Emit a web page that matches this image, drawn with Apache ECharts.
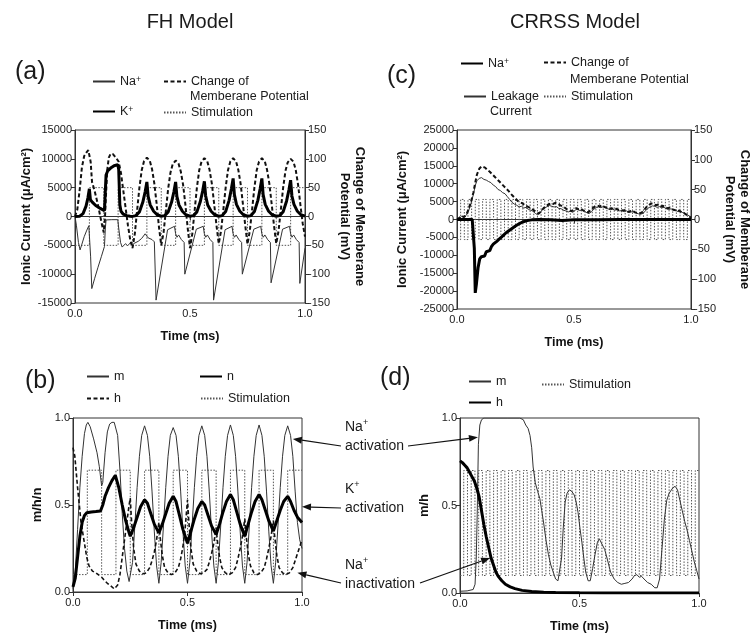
<!DOCTYPE html>
<html><head><meta charset="utf-8">
<script src="https://cdn.jsdelivr.net/npm/echarts@6/dist/echarts.min.js"></script>
<style>html,body{margin:0;padding:0;background:#fff}#c{width:756px;height:640px}</style>
</head><body><div id="c"></div>
<script>
// ---------- Panel (a): FH model currents ----------
const naA = [[0,0],[0.006,-1500],[0.015,-4500],[0.022,-5800],[0.03,-4800],[0.04,-3500],[0.05,-2500],[0.06,-1600],[0.064,-1500],[0.068,-7000],[0.073,-12500],[0.085,-10800],[0.1,-8800],[0.115,-6900],[0.128,-5200],[0.132,-2000],[0.135,-600],[0.16,-550],[0.186,-550],[0.19,-2000],[0.198,-4500],[0.205,-5300],[0.212,-5600],[0.22,-4700],[0.228,-5100],[0.24,-4600],[0.25,-4900],[0.26,-4600],[0.275,-4300],[0.29,-3800],[0.305,-3000],[0.3125,-2800],[0.318,-3700],[0.325,-3400],[0.335,-4000],[0.345,-4400],[0.35,-4600],
[0.3525,-14500],[0.4025,-2300],[0.4325,-1700],[0.4375,-3000],[0.4435,-3600],[0.4505,-3200],[0.4625,-4000],[0.4745,-4500],
[0.4775,-10000],[0.5275,-2200],[0.5575,-1700],[0.5625,-3000],[0.5685,-3600],[0.5755,-3200],[0.5875,-4000],[0.5995,-4500],
[0.6025,-14500],[0.6525,-2300],[0.6825,-1700],[0.6875,-3000],[0.6935,-3600],[0.7005,-3200],[0.7125,-4000],[0.7245,-4500],
[0.7275,-10000],[0.7775,-2200],[0.8075,-1700],[0.8125,-3000],[0.8185,-3600],[0.8255,-3200],[0.8375,-4000],[0.8495,-4500],
[0.8525,-11500],[0.9025,-2200],[0.9325,-1700],[0.9375,-3000],[0.9435,-3600],[0.9505,-3200],[0.9625,-4000],[0.9745,-4500],
[0.9775,-11600],[1.0,-5500]];
const kA = [[0,0],[0.02,50],[0.035,500],[0.048,1800],[0.056,3200],[0.0625,4800],[0.067,2900],[0.075,2500],[0.09,1900],[0.11,1400],[0.128,1000],[0.131,1200],[0.135,7200],[0.142,7900],[0.155,8400],[0.17,8800],[0.186,9000],[0.19,8200],[0.195,2000],[0.2,900],[0.21,400],[0.225,150],[0.24,50],[0.25,20],
[0.265,150],[0.28,800],[0.295,2500],[0.305,4300],[0.3125,6000],[0.318,3500],[0.327,2000],[0.342,900],[0.357,300],[0.375,50],
[0.39,150],[0.405,800],[0.42,2500],[0.43,4300],[0.4375,6000],[0.443,3500],[0.452,2000],[0.467,900],[0.482,300],[0.5,50],
[0.515,150],[0.53,800],[0.545,2600],[0.555,4400],[0.5625,6100],[0.568,3600],[0.577,2000],[0.592,900],[0.607,300],[0.625,50],
[0.64,150],[0.655,850],[0.67,2800],[0.68,4800],[0.6875,6600],[0.693,3800],[0.702,2100],[0.717,900],[0.732,300],[0.75,50],
[0.765,150],[0.78,850],[0.795,2800],[0.805,4800],[0.8125,6600],[0.818,3800],[0.827,2100],[0.842,900],[0.857,300],[0.875,50],
[0.89,150],[0.905,820],[0.92,2700],[0.93,4600],[0.9375,6300],[0.943,3600],[0.952,2100],[0.967,900],[0.982,300],[1.0,60]];
const vA = [[0,0],[0.01,12],[0.02,45],[0.03,85],[0.04,105],[0.05,111],[0.058,115],[0.064,118],[0.068,95],[0.074,60],[0.085,45],[0.1,20],[0.115,-10],[0.125,-28],[0.13,-5],[0.135,40],[0.14,80],[0.147,102],[0.155,109],[0.165,108],[0.178,102],[0.19,95],[0.2,75],[0.21,45],[0.22,15],[0.23,-15],[0.24,-40],[0.25,-55],
[0.26,-30],[0.27,10],[0.28,50],[0.29,80],[0.3,96],[0.3125,102],[0.325,97],[0.335,82],[0.345,57],[0.355,22],[0.365,-18],[0.375,-50],
[0.385,-28],[0.395,10],[0.405,48],[0.415,76],[0.425,91],[0.4375,97],[0.45,92],[0.46,78],[0.47,55],[0.48,20],[0.49,-20],[0.5,-55],
[0.51,-30],[0.52,10],[0.53,50],[0.54,80],[0.55,95],[0.5625,101],[0.575,96],[0.585,81],[0.595,57],[0.605,22],[0.615,-15],[0.625,-47],
[0.635,-25],[0.645,12],[0.655,50],[0.665,80],[0.675,95],[0.6875,101],[0.7,96],[0.71,81],[0.72,57],[0.73,22],[0.74,-15],[0.75,-48],
[0.76,-25],[0.77,12],[0.78,50],[0.79,80],[0.8,95],[0.8125,101],[0.825,96],[0.835,81],[0.845,57],[0.855,22],[0.865,-15],[0.875,-47],
[0.885,-25],[0.895,12],[0.905,50],[0.915,79],[0.925,94],[0.9375,100],[0.95,95],[0.96,80],[0.97,55],[0.98,20],[0.99,-12],[1.0,-35]];

// ---------- Panel (b): FH gating ----------
const mB = [[0,0.02],[0.01,0.12],[0.02,0.36],[0.03,0.6],[0.04,0.78],[0.05,0.91],[0.058,0.96],[0.065,0.975],[0.075,0.95],[0.09,0.88],[0.105,0.8],[0.115,0.72],[0.125,0.61],[0.13,0.63],[0.14,0.8],[0.15,0.92],[0.16,0.965],[0.17,0.975],[0.18,0.975],[0.188,0.965],[0.195,0.9],[0.205,0.7],[0.215,0.45],[0.225,0.25],[0.235,0.12],[0.245,0.06],[0.25,0.05],
[0.26,0.17],[0.27,0.38],[0.28,0.6],[0.29,0.78],[0.3,0.9],[0.3125,0.955],[0.325,0.9],[0.335,0.78],[0.345,0.58],[0.355,0.35],[0.365,0.15],[0.375,0.05],
[0.385,0.17],[0.395,0.38],[0.405,0.6],[0.415,0.78],[0.425,0.9],[0.4375,0.945],[0.45,0.9],[0.46,0.78],[0.47,0.58],[0.48,0.35],[0.49,0.15],[0.5,0.05],
[0.51,0.17],[0.52,0.38],[0.53,0.6],[0.54,0.78],[0.55,0.9],[0.5625,0.955],[0.575,0.9],[0.585,0.78],[0.595,0.58],[0.605,0.35],[0.615,0.15],[0.625,0.05],
[0.635,0.17],[0.645,0.38],[0.655,0.6],[0.665,0.78],[0.675,0.9],[0.6875,0.96],[0.7,0.9],[0.71,0.78],[0.72,0.58],[0.73,0.35],[0.74,0.15],[0.75,0.05],
[0.76,0.17],[0.77,0.38],[0.78,0.6],[0.79,0.78],[0.8,0.9],[0.8125,0.96],[0.825,0.9],[0.835,0.78],[0.845,0.58],[0.855,0.35],[0.865,0.15],[0.875,0.05],
[0.885,0.17],[0.895,0.38],[0.905,0.6],[0.915,0.78],[0.925,0.9],[0.9375,0.955],[0.95,0.9],[0.96,0.78],[0.97,0.58],[0.98,0.4],[0.99,0.3],[1.0,0.25]];
const hB = [[0,0.83],[0.008,0.78],[0.02,0.6],[0.035,0.4],[0.05,0.28],[0.06,0.2],[0.07,0.15],[0.085,0.12],[0.1,0.11],[0.115,0.095],[0.125,0.085],[0.135,0.07],[0.15,0.05],[0.165,0.035],[0.18,0.018],[0.188,0.015],[0.195,0.04],[0.205,0.1],[0.215,0.2],[0.225,0.3],[0.235,0.4],[0.245,0.5],[0.25,0.54],
[0.255,0.42],[0.265,0.25],[0.275,0.16],[0.29,0.12],[0.305,0.105],[0.32,0.11],[0.335,0.14],[0.345,0.18],[0.355,0.23],[0.365,0.3],[0.375,0.4],
[0.38,0.32],[0.39,0.21],[0.4,0.14],[0.415,0.11],[0.43,0.1],[0.445,0.11],[0.46,0.14],[0.47,0.19],[0.48,0.26],[0.49,0.37],[0.5,0.53],
[0.505,0.42],[0.515,0.25],[0.525,0.16],[0.54,0.12],[0.555,0.105],[0.57,0.11],[0.585,0.13],[0.595,0.17],[0.605,0.22],[0.615,0.28],[0.625,0.37],
[0.63,0.3],[0.64,0.2],[0.65,0.14],[0.665,0.11],[0.68,0.1],[0.695,0.11],[0.71,0.14],[0.72,0.19],[0.73,0.25],[0.74,0.32],[0.75,0.42],
[0.755,0.34],[0.765,0.22],[0.775,0.15],[0.79,0.11],[0.805,0.1],[0.82,0.11],[0.835,0.14],[0.845,0.19],[0.855,0.25],[0.865,0.32],[0.875,0.41],
[0.88,0.33],[0.89,0.21],[0.9,0.14],[0.915,0.11],[0.93,0.1],[0.945,0.11],[0.96,0.14],[0.97,0.18],[0.98,0.22],[0.99,0.26],[1.0,0.3]];
const nB = [[0,0.03],[0.01,0.08],[0.02,0.2],[0.03,0.32],[0.04,0.4],[0.05,0.44],[0.06,0.455],[0.08,0.46],[0.1,0.462],[0.12,0.465],[0.13,0.5],[0.14,0.55],[0.155,0.6],[0.17,0.64],[0.185,0.67],[0.19,0.665],[0.2,0.6],[0.215,0.5],[0.23,0.41],[0.245,0.34],[0.25,0.32],
[0.265,0.37],[0.28,0.43],[0.295,0.49],[0.3125,0.53],[0.325,0.51],[0.34,0.45],[0.355,0.39],[0.375,0.34],
[0.39,0.39],[0.405,0.45],[0.42,0.51],[0.4375,0.55],[0.45,0.52],[0.465,0.44],[0.48,0.36],[0.5,0.28],
[0.515,0.35],[0.53,0.42],[0.545,0.48],[0.5625,0.52],[0.575,0.5],[0.59,0.44],[0.605,0.38],[0.625,0.33],
[0.64,0.39],[0.655,0.46],[0.67,0.52],[0.6875,0.56],[0.7,0.53],[0.715,0.46],[0.73,0.39],[0.75,0.32],
[0.765,0.39],[0.78,0.46],[0.795,0.52],[0.8125,0.56],[0.825,0.53],[0.84,0.47],[0.855,0.41],[0.875,0.35],
[0.89,0.41],[0.905,0.47],[0.92,0.52],[0.9375,0.55],[0.95,0.52],[0.965,0.47],[0.98,0.43],[1.0,0.4]];

// ---------- Panel (c): CRRSS currents ----------
const naC = [[0,0],[0.02,0],[0.05,0],[0.065,50],[0.07,-500],[0.074,-8000],[0.078,-20500],[0.083,-18000],[0.09,-13500],[0.097,-11000],[0.104,-10400],[0.112,-10600],[0.118,-10200],[0.125,-9000],[0.132,-8500],[0.14,-8700],[0.147,-7600],[0.155,-6900],[0.163,-7000],[0.17,-6100],[0.18,-5500],[0.19,-4900],[0.2,-4300],[0.21,-3700],[0.22,-3200],[0.235,-2500],[0.25,-1800],[0.265,-1200],[0.28,-700],[0.3,-300],[0.32,-100],[0.35,0],[0.4,-50],[0.45,-250],[0.5,-100],[0.6,-50],[0.7,0],[0.8,0],[0.9,0],[1.0,0]];
const leakC = [[0,0],[0.01,300],[0.02,900],[0.03,600],[0.04,1200],[0.05,2500],[0.06,4500],[0.07,7000],[0.078,9500],[0.085,10800],[0.095,11500],[0.105,11700],[0.115,11200],[0.125,11000],[0.135,10600],[0.145,10300],[0.155,9600],[0.165,9200],[0.175,8400],[0.185,8100],[0.195,7500],[0.205,7200],[0.215,6400],[0.225,5600],[0.235,4800],[0.245,4300],[0.255,4000],[0.265,3500],[0.275,3700],[0.285,3200],[0.295,3400],[0.305,2800],[0.315,2600],[0.325,2300],[0.335,1700],[0.345,1300],[0.355,1900],[0.365,2800],[0.375,3200],[0.385,3600],[0.395,3900],[0.405,3700],[0.415,3500],[0.425,3600],[0.435,3100],[0.445,3000],[0.455,2600],[0.465,2400],[0.475,2100],[0.485,2300],[0.495,2000],[0.505,2600],[0.515,2900],[0.525,2500],[0.535,2700],[0.545,2300],[0.555,1900],[0.565,1700],[0.575,2200],[0.585,2900],[0.595,3300],[0.605,3500],[0.615,3300],[0.625,3600],[0.635,3200],[0.645,3000],[0.655,2700],[0.665,2900],[0.675,2600],[0.685,2800],[0.695,2400],[0.705,2500],[0.715,2200],[0.725,2400],[0.735,1900],[0.745,2100],[0.755,2300],[0.765,1800],[0.775,1600],[0.785,1500],[0.795,1700],[0.805,2400],[0.815,3100],[0.825,3500],[0.835,3800],[0.845,3700],[0.855,3400],[0.865,3600],[0.875,3300],[0.885,3400],[0.895,3000],[0.905,2800],[0.915,3000],[0.925,2600],[0.935,2500],[0.945,2200],[0.955,2300],[0.965,1900],[0.975,1700],[0.985,1300],[0.995,900],[1.0,500]];
const vC = [[0,0],[0.01,3],[0.02,6],[0.03,4],[0.04,8],[0.05,18],[0.06,30],[0.07,45],[0.078,62],[0.085,75],[0.095,85],[0.105,89],[0.112,90],[0.12,87],[0.13,83],[0.14,80],[0.15,76],[0.16,72],[0.17,68],[0.18,64],[0.19,60],[0.2,56],[0.21,52],[0.22,48],[0.23,43],[0.24,39],[0.25,35],[0.26,31],[0.27,29],[0.28,27],[0.29,24],[0.3,22],[0.31,20],[0.32,18],[0.33,15],[0.34,12],[0.35,10],[0.36,14],[0.37,19],[0.38,22],[0.39,25],[0.4,27],[0.41,26],[0.42,28],[0.43,27],[0.44,24],[0.45,22],[0.46,20],[0.47,17],[0.48,16],[0.49,14],[0.5,17],[0.51,19],[0.52,17],[0.53,18],[0.54,15],[0.55,13],[0.56,12],[0.57,15],[0.58,19],[0.59,22],[0.6,23],[0.61,22],[0.62,24],[0.63,21],[0.64,20],[0.65,18],[0.66,19],[0.67,17],[0.68,18],[0.69,16],[0.7,16],[0.71,15],[0.72,16],[0.73,13],[0.74,14],[0.75,15],[0.76,12],[0.77,11],[0.78,10],[0.79,12],[0.8,16],[0.81,21],[0.82,24],[0.83,27],[0.84,26],[0.85,24],[0.86,25],[0.87,22],[0.88,23],[0.89,20],[0.9,19],[0.91,20],[0.92,17],[0.93,16],[0.94,14],[0.95,15],[0.96,12],[0.97,11],[0.98,8],[0.99,6],[1.0,3]];

// ---------- Panel (d): CRRSS gating ----------
const mD = [[0,0.01],[0.03,0.012],[0.055,0.02],[0.063,0.05],[0.068,0.2],[0.072,0.45],[0.077,0.85],[0.083,0.96],[0.09,0.99],[0.1,1.0],[0.15,1.0],[0.2,1.0],[0.25,1.0],[0.265,0.99],[0.275,0.96],[0.285,0.94],[0.293,0.9],[0.3,0.83],[0.306,0.72],[0.315,0.63],[0.325,0.58],[0.334,0.54],[0.342,0.47],[0.35,0.4],[0.36,0.3],[0.37,0.22],[0.38,0.16],[0.39,0.12],[0.4,0.08],[0.41,0.07],[0.418,0.08],[0.425,0.2],[0.432,0.37],[0.44,0.52],[0.448,0.57],[0.458,0.59],[0.468,0.58],[0.478,0.56],[0.486,0.52],[0.494,0.46],[0.502,0.37],[0.51,0.29],[0.518,0.2],[0.526,0.12],[0.536,0.07],[0.545,0.07],[0.555,0.14],[0.565,0.22],[0.575,0.29],[0.583,0.31],[0.59,0.29],[0.597,0.29],[0.605,0.25],[0.615,0.2],[0.63,0.12],[0.645,0.08],[0.66,0.06],[0.675,0.05],[0.69,0.055],[0.705,0.06],[0.72,0.08],[0.73,0.1],[0.74,0.105],[0.75,0.09],[0.76,0.095],[0.77,0.08],[0.785,0.06],[0.8,0.05],[0.815,0.03],[0.825,0.03],[0.835,0.08],[0.845,0.25],[0.855,0.42],[0.865,0.53],[0.875,0.57],[0.89,0.6],[0.9,0.61],[0.91,0.59],[0.92,0.53],[0.93,0.47],[0.94,0.41],[0.95,0.36],[0.96,0.3],[0.97,0.24],[0.98,0.18],[0.99,0.13],[1.0,0.08]];
const hD = [[0,0.755],[0.01,0.745],[0.02,0.73],[0.03,0.715],[0.04,0.69],[0.05,0.665],[0.06,0.64],[0.07,0.6],[0.08,0.55],[0.09,0.47],[0.1,0.39],[0.11,0.32],[0.12,0.26],[0.13,0.2],[0.14,0.16],[0.15,0.12],[0.16,0.095],[0.175,0.07],[0.19,0.05],[0.21,0.035],[0.23,0.025],[0.26,0.015],[0.3,0.009],[0.35,0.005],[0.4,0.003],[0.5,0.001],[0.6,0],[0.8,0],[1.0,0]];

// ---------- Stimulation square waves (edge times, low/high levels) ----------
const stimEdgesAB = [0,0.0625,0.125,0.1875,0.25,0.3125,0.375,0.4375,0.5,0.5625,0.625,0.6875,0.75,0.8125,0.875,0.9375,1.0];
const stimEdgesCD = [0,0.0156,0.0313,0.0469,0.0625,0.0781,0.0938,0.1094,0.125,0.1406,0.1563,0.1719,0.1875,0.2031,0.2188,0.2344,0.25,0.2656,0.2813,0.2969,0.3125,0.3281,0.3438,0.3594,0.375,0.3906,0.4063,0.4219,0.4375,0.4531,0.4688,0.4844,0.5,0.5156,0.5313,0.5469,0.5625,0.5781,0.5938,0.6094,0.625,0.6406,0.6563,0.6719,0.6875,0.7031,0.7188,0.7344,0.75,0.7656,0.7813,0.7969,0.8125,0.8281,0.8438,0.8594,0.875,0.8906,0.9063,0.9219,0.9375,0.9531,0.9688,0.9844,1.0];
const stimLevelsA = [-5000, 5000];
const stimLevelsB = [0.1, 0.7];
const stimLevelsC = [-5600, 5600];
const stimLevelsD = [0.1, 0.7];

function steps(edges, lv){
  const out = [];
  for (let i = 0; i < edges.length - 1; i++) {
    const v = i % 2 === 0 ? lv[0] : lv[1];
    out.push([edges[i], v], [edges[i+1], v]);
  }
  return out;
}

const FONT = '"Liberation Sans", Arial, sans-serif';
const INK = '#1a1a1a';

function xAx(g){
  return {type:'value', gridIndex:g, min:0, max:1, interval:0.5,
    axisLine:{lineStyle:{color:'#333', width:1}},
    axisTick:{length:4, lineStyle:{color:'#333'}},
    axisLabel:{formatter:v=>v.toFixed(1), fontSize:11, color:INK, margin:5, fontFamily:FONT},
    splitLine:{show:false},
    name:'Time (ms)', nameLocation:'middle', nameGap:27,
    nameTextStyle:{fontWeight:'bold', fontSize:12.5, color:'#111', fontFamily:FONT}};
}
function yAx(g, min, max, step, opts){
  return Object.assign({type:'value', gridIndex:g, min, max, interval:step,
    axisLine:{show:true, lineStyle:{color:'#333', width:1}},
    axisTick:{show:true, length:4, lineStyle:{color:'#333'}},
    axisLabel:{fontSize:11, color:INK, margin:3, fontFamily:FONT, formatter:v=>String(v)},
    splitLine:{show:false},
    nameLocation:'middle',
    nameTextStyle:{fontWeight:'bold', fontSize:13, color:'#111', fontFamily:FONT, lineHeight:15}}, opts||{});
}

const names = {naA:'Na{sup|+}', kA:'K{sup|+}', vA:'Change of', stimA:'Stimulation',
  mB:'m', hB:'h', nB:'n', stimB:'Stimulation',
  naC:'Na{sup|+}', leakC:'Leakage', vC:'Change of', stimC:'Stimulation',
  mD:'m', hD:'h', stimD:'Stimulation'};

function lg(key, left, top){
  return {data:[key], left, top, padding:0, itemWidth:22, itemHeight:12, selectedMode:false,
    itemStyle:{opacity:0, borderWidth:0},
    formatter:n=>names[n],
    textStyle:{fontSize:12.5, color:INK, fontFamily:FONT,
      rich:{sup:{fontSize:8.5, verticalAlign:'top', lineHeight:8, padding:[0,0,5,0]}}}};
}

const thin = c => ({color:c||'#222', width:1});
const dotted = {color:'#555', width:1, type:[1.5,1.5]};
const blk = {color:'#000'};

const option = {
  animation:false,
  backgroundColor:'#fff',
  grid:[
    {left:75, top:130, width:230, height:173, show:true, borderColor:'#333', borderWidth:1},
    {left:73, top:418, width:229, height:174, show:true, borderColor:'#333', borderWidth:1},
    {left:457, top:130, width:234, height:179, show:true, borderColor:'#333', borderWidth:1},
    {left:460, top:418, width:239, height:175, show:true, borderColor:'#333', borderWidth:1}
  ],
  xAxis:[xAx(0), xAx(1), xAx(2), xAx(3)],
  yAxis:[
    yAx(0, -15000, 15000, 5000, {name:'Ionic Current (μA/cm²)', nameGap:41}),
    yAx(0, -150, 150, 50, {position:'right', name:'Change of Memberane\nPotential (mV)', nameRotate:-90, nameGap:32}),
    yAx(2, -25000, 25000, 5000, {name:'Ionic Current (μA/cm²)', nameGap:47}),
    yAx(2, -150, 150, 50, {position:'right', name:'Change of Memberane\nPotential (mV)', nameRotate:-90, nameGap:31}),
    yAx(1, 0, 1, 0.5, {name:'m/h/n', nameGap:28, axisLabel:{fontSize:11, color:INK, margin:3, fontFamily:FONT, formatter:v=>v.toFixed(1)}}),
    yAx(3, 0, 1, 0.5, {name:'m/h', nameGap:28, axisLabel:{fontSize:11, color:INK, margin:3, fontFamily:FONT, formatter:v=>v.toFixed(1)}})
  ],
  legend:[
    lg('naA', 92, 75), lg('kA', 92, 105), lg('vA', 163, 75), lg('stimA', 163, 106),
    lg('mB', 86, 370), lg('hB', 86, 392), lg('nB', 199, 370), lg('stimB', 200, 392),
    lg('naC', 460, 57), lg('leakC', 463, 90), lg('vC', 543, 56), lg('stimC', 543, 90),
    lg('mD', 468, 375), lg('hD', 468, 396), lg('stimD', 541, 378)
  ],
  series:[
    {name:'stimA', type:'line', xAxisIndex:0, yAxisIndex:0, data:steps(stimEdgesAB, stimLevelsA), symbol:'none', itemStyle:blk, lineStyle:dotted, z:1},
    {name:'naA', type:'line', xAxisIndex:0, yAxisIndex:0, data:naA, symbol:'none', itemStyle:blk, lineStyle:thin('#333'), z:2},
    {name:'vA', type:'line', xAxisIndex:0, yAxisIndex:1, data:vA, symbol:'none', itemStyle:blk, lineStyle:{color:'#111', width:2, type:[4,2.5]}, z:3},
    {name:'kA', type:'line', xAxisIndex:0, yAxisIndex:0, data:kA, symbol:'none', itemStyle:blk, lineStyle:{color:'#000', width:3}, z:4},

    {name:'stimB', type:'line', xAxisIndex:1, yAxisIndex:4, data:steps(stimEdgesAB, stimLevelsB), symbol:'none', itemStyle:blk, lineStyle:dotted, z:1},
    {name:'mB', type:'line', xAxisIndex:1, yAxisIndex:4, data:mB, symbol:'none', itemStyle:blk, lineStyle:thin('#333'), z:2},
    {name:'hB', type:'line', xAxisIndex:1, yAxisIndex:4, data:hB, symbol:'none', itemStyle:blk, lineStyle:{color:'#111', width:1.6, type:[4,2.5]}, z:3},
    {name:'nB', type:'line', xAxisIndex:1, yAxisIndex:4, data:nB, symbol:'none', itemStyle:blk, lineStyle:{color:'#000', width:3}, z:4},

    {name:'stimC', type:'line', xAxisIndex:2, yAxisIndex:2, data:steps(stimEdgesCD, stimLevelsC), symbol:'none', itemStyle:blk, lineStyle:dotted, z:1},
    {name:'leakC', type:'line', xAxisIndex:2, yAxisIndex:2, data:leakC, symbol:'none', itemStyle:blk, lineStyle:thin('#333'), z:2},
    {name:'vC', type:'line', xAxisIndex:2, yAxisIndex:3, data:vC, symbol:'none', itemStyle:blk, lineStyle:{color:'#111', width:2, type:[4,2.5]}, z:3},
    {name:'naC', type:'line', xAxisIndex:2, yAxisIndex:2, data:naC, symbol:'none', itemStyle:blk, lineStyle:{color:'#000', width:3}, z:4},

    {name:'stimD', type:'line', xAxisIndex:3, yAxisIndex:5, data:steps(stimEdgesCD, stimLevelsD), symbol:'none', itemStyle:blk, lineStyle:dotted, z:1},
    {name:'mD', type:'line', xAxisIndex:3, yAxisIndex:5, data:mD, symbol:'none', itemStyle:blk, lineStyle:thin('#333'), z:2},
    {name:'hD', type:'line', xAxisIndex:3, yAxisIndex:5, data:hD, symbol:'none', itemStyle:blk, lineStyle:{color:'#000', width:3}, z:4}
  ]
};

const chart = echarts.init(document.getElementById('c'), null, {renderer:'canvas'});
chart.setOption(option);

// annotation arrow targets (data coords in panel b: x1/y4, panel d: x3/y5)
const annoTargets = [
  {from:[341,446], ax:[1,4], pt:[0.96,0.88]},
  {from:[408,446], ax:[3,5], pt:[0.075,0.89]},
  {from:[341,508], ax:[1,4], pt:[1.0,0.49]},
  {from:[341,583], ax:[1,4], pt:[0.98,0.11]},
  {from:[420,583], ax:[3,5], pt:[0.126,0.2]}
];

const txt = (text, x, y, size, extra) => ({type:'text', x, y, style:Object.assign({text, fontSize:size, fill:INK, fontFamily:FONT, verticalAlign:'middle'}, extra||{}), z:50});
const annoRich = {sup:{fontSize:9, verticalAlign:'top', padding:[0,0,6,0]}};
const graphic = [
  txt('FH Model', 190, 22, 20, {align:'center'}),
  txt('CRRSS Model', 575, 22, 20, {align:'center'}),
  txt('(a)', 15, 72, 25),
  txt('(c)', 387, 76, 25),
  txt('(b)', 25, 381, 25),
  txt('(d)', 380, 378, 25),
  txt('Memberane Potential', 190, 97, 12.5),
  txt('Memberane Potential', 570, 80, 12.5),
  txt('Current', 490, 112, 12.5),
  {type:'text', x:345, y:418, z:50, style:{text:'Na{sup|+}\nactivation', fontSize:14, lineHeight:19, fill:INK, fontFamily:FONT, rich:annoRich}},
  {type:'text', x:345, y:480, z:50, style:{text:'K{sup|+}\nactivation', fontSize:14, lineHeight:19, fill:INK, fontFamily:FONT, rich:annoRich}},
  {type:'text', x:345, y:556, z:50, style:{text:'Na{sup|+}\ninactivation', fontSize:14, lineHeight:19, fill:INK, fontFamily:FONT, rich:annoRich}}
];
annoTargets.forEach(a => {
  const [x1, y1] = a.from;
  const [x2, y2] = chart.convertToPixel({xAxisIndex:a.ax[0], yAxisIndex:a.ax[1]}, a.pt);
  const ang = Math.atan2(y2 - y1, x2 - x1);
  const L = 9, W = 3.5;
  const bx = x2 - L * Math.cos(ang), by = y2 - L * Math.sin(ang);
  graphic.push({type:'line', z:50, shape:{x1, y1, x2:bx, y2:by}, style:{stroke:'#111', lineWidth:1.2}});
  graphic.push({type:'polygon', z:50, shape:{points:[[x2,y2],[bx + W*Math.sin(ang), by - W*Math.cos(ang)],[bx - W*Math.sin(ang), by + W*Math.cos(ang)]]}, style:{fill:'#111'}});
});
chart.setOption({graphic});
</script></body></html>
